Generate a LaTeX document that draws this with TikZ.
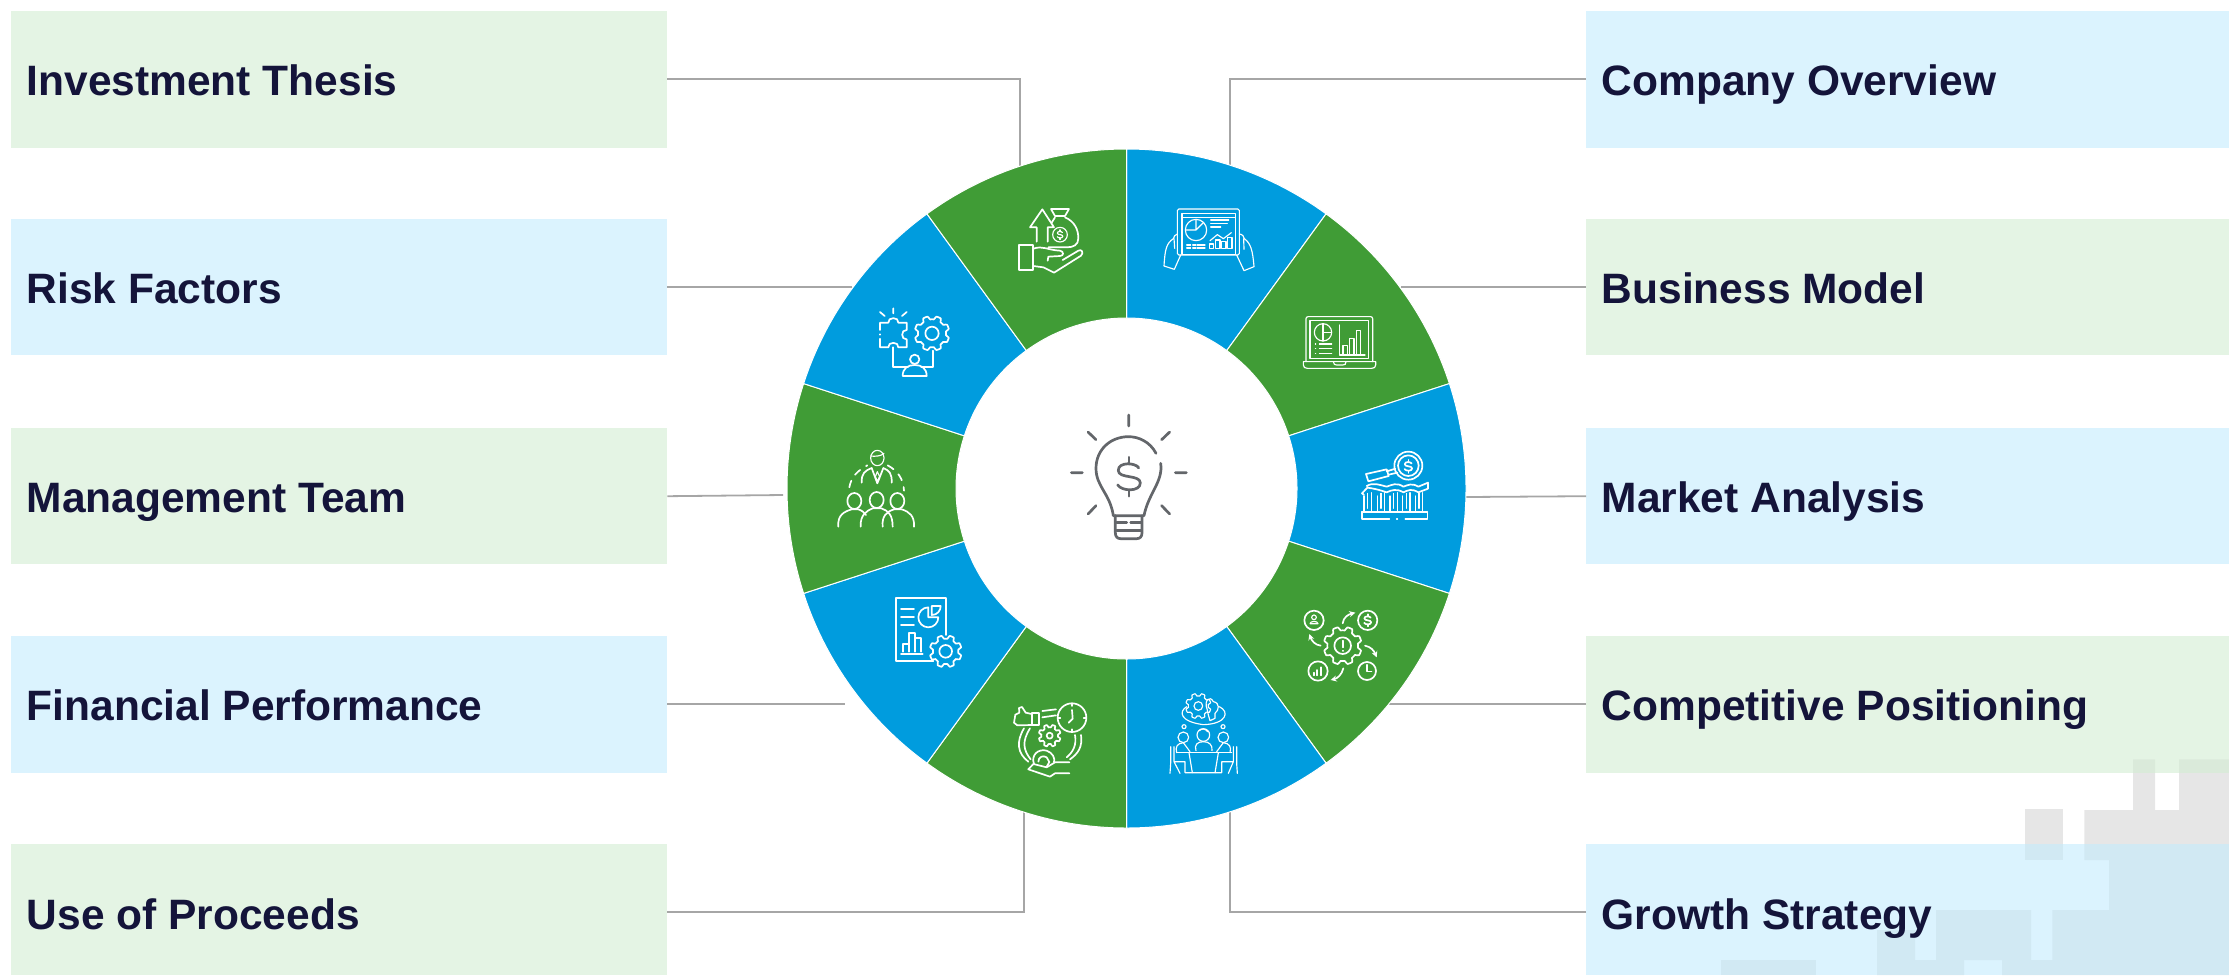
\documentclass[tikz,border=0pt]{standalone}
\usepackage{fontspec}
\setmainfont{Liberation Sans}
\usetikzlibrary{arrows.meta}
\definecolor{cgreen}{HTML}{409C36}
\definecolor{cblue}{HTML}{009CDE}
\definecolor{bgreen}{RGB}{210,237,210}
\definecolor{bblue}{RGB}{195,235,253}
\definecolor{navy}{HTML}{14143A}
\definecolor{wire}{HTML}{A6A6A6}
\definecolor{pale}{HTML}{E6E6E6}
\definecolor{bulb}{HTML}{63666A}
\tikzset{
  boxgreen/.style={fill=bgreen,fill opacity=.6,draw=none,anchor=north west,inner sep=0pt},
  boxblue/.style={fill=bblue,fill opacity=.6,draw=none,anchor=north west,inner sep=0pt},
  labeltext/.style={anchor=base west,inner sep=0pt,text=navy,font=\fontsize{42.5}{50}\selectfont\bfseries},
  wire line/.style={draw=wire,line width=1.8pt},
  wedge/.style={draw=white,line width=1pt},
  ic/.style={draw=white,line width=1.7pt,line join=round,line cap=round},
  icthin/.style={draw=white,line width=1.15pt,line join=round,line cap=round},
  bl/.style={draw=bulb,line width=2.7pt,line join=round,line cap=round},
  zoomed/.style 2 args={shift={(#1,#2)},x=.33333pt,y=-.33333pt},
  arrowed/.style={ic,-{Stealth[length=6pt,width=6pt]}}
}
\newcommand{\geardraw}[6]{% style, cx, cy, outer, tooth depth, teeth
  \draw[#1] plot[domain=0:360,samples=145,variable=\t]
   ({#2+(#4-#5*(0.5+0.5*max(min(2.2*cos(#6*\t),1),-1)))*cos(\t)},
    {#3+(#4-#5*(0.5+0.5*max(min(2.2*cos(#6*\t),1),-1)))*sin(\t)}) -- cycle;}
\newcommand{\dollarmark}[4]{% style, x, y, half height in pt
  \begin{scope}[shift={(#2,#3)},x=#4pt,y=#4pt]
  \draw[#1] (.5,.45) .. controls (.35,.72) and (-.55,.78) .. (-.55,.32)
     .. controls (-.55,-.12) and (.58,.12) .. (.58,-.32)
     .. controls (.58,-.8) and (-.4,-.75) .. (-.58,-.42);
  \draw[#1] (0,.72) -- (0,1) (0,-.72) -- (0,-1);
  \end{scope}}
\begin{document}
\begin{tikzpicture}[x=1pt,y=-1pt]
\useasboundingbox (0,0) rectangle (2229,975);
% pale backdrop
\fill[pale] (2025,809) rectangle (2063,860);
\fill[pale] (2084.3,860) -- (2084.3,810) -- (2133,810) -- (2133,759.3) -- (2155,759.3) -- (2155,810)
  -- (2179,810) -- (2179,759.3) -- (2229,759.3) -- (2229,975) -- (2002,975) -- (2002,960) -- (1964,960)
  -- (1964,975) -- (1877,975) -- (1877,930) -- (1915,930) -- (1915,960) -- (1936,960) -- (1936,910)
  -- (2031,910) -- (2031,960) -- (2052.3,960) -- (2052.3,910) -- (2109,910) -- (2109,860) -- cycle;
\fill[pale] (1721,960) rectangle (1816,975);
% boxes
\node[boxgreen,minimum width=656pt,minimum height=137pt] (b1) at (11,11) {};
\node[boxblue,minimum width=656pt,minimum height=136pt] (b2) at (11,219) {};
\node[boxgreen,minimum width=656pt,minimum height=136pt] (b3) at (11,428) {};
\node[boxblue,minimum width=656pt,minimum height=137pt] (b4) at (11,636) {};
\node[boxgreen,minimum width=656pt,minimum height=131pt] (b5) at (11,844) {};
\node[boxblue,minimum width=643pt,minimum height=137pt] (b6) at (1586,11) {};
\node[boxgreen,minimum width=643pt,minimum height=136pt] (b7) at (1586,219) {};
\node[boxblue,minimum width=643pt,minimum height=136pt] (b8) at (1586,428) {};
\node[boxgreen,minimum width=643pt,minimum height=137pt] (b9) at (1586,636) {};
\node[boxblue,minimum width=643pt,minimum height=131pt] (b10) at (1586,844) {};
% connector ends
\coordinate (c1a) at (1020,79); \coordinate (c1b) at (1020,175);
\coordinate (c2) at (852,287);
\coordinate (c3) at (783,495);
\coordinate (c4) at (845,704);
\coordinate (c5a) at (1024,912); \coordinate (c5b) at (1024,805);
\coordinate (c6a) at (1230,79); \coordinate (c6b) at (1230,175);
\coordinate (c7) at (1401,287);
\coordinate (c8) at (1466,497);
\coordinate (c9) at (1388,704);
\coordinate (c10a) at (1230,912); \coordinate (c10b) at (1230,805);
\draw[wire line] (b1.east |- c1a) -- (c1a) -- (c1b);
\draw[wire line] (b2.east |- c2) -- (c2);
\draw[wire line] (b3.east) -- (c3);
\draw[wire line] (b4.east |- c4) -- (c4);
\draw[wire line] (b5.east |- c5a) -- (c5a) -- (c5b);
\draw[wire line] (b6.west |- c6a) -- (c6a) -- (c6b);
\draw[wire line] (b7.west |- c7) -- (c7);
\draw[wire line] (b8.west) -- (c8);
\draw[wire line] (b9.west |- c9) -- (c9);
\draw[wire line] (b10.west |- c10a) -- (c10a) -- (c10b);
% ring
\begin{scope}[shift={(1126.5,488.5)},x=1pt,y=1pt]
\foreach \i/\c in {0/cblue,1/cgreen,2/cblue,3/cgreen,4/cblue,5/cgreen,6/cblue,7/cgreen,8/cblue,9/cgreen}{
  \pgfmathsetmacro{\sa}{90-36*\i}
  \pgfmathsetmacro{\ea}{54-36*\i}
  \fill[\c,wedge] (\sa:170.5pt) -- (\sa:339.5pt) arc[start angle=\sa,end angle=\ea,radius=339.5pt]
     -- (\ea:170.5pt) arc[start angle=\ea,end angle=\sa,radius=170.5pt] -- cycle;
}
\end{scope}
% labels
\node[labeltext] (t1) at (26.5,95) {Investment Thesis};
\node[labeltext] (t2) at (26.5,303) {Risk Factors};
\node[labeltext] (t3) at (26.5,512) {Management Team};
\node[labeltext] (t4) at (26.5,720) {Financial Performance};
\node[labeltext] (t5) at (26.5,929) {Use of Proceeds};
\node[labeltext] (t6) at (1601.5,95) {Company Overview};
\node[labeltext] (t7) at (1601.5,303) {Business Model};
\node[labeltext] (t8) at (1601.5,512) {Market Analysis};
\node[labeltext] (t9) at (1601.5,720) {Competitive Positioning};
\node[labeltext] (t10) at (1601.5,929) {Growth Strategy};
% bulb
\begin{scope}[zoomed={1050}{400}]
\draw[bl] (236,45)--(236,78) (114,96)--(138,119) (359,96)--(335,119) (64,218)--(97,218)
  (376,218)--(409,218) (114,342)--(138,317) (359,342)--(335,317);
\draw[bl] (318,160) .. controls (300,125) and (265,110) .. (236,110) .. controls (180,110) and (138,150) .. (138,205)
  .. controls (138,260) and (180,280) .. (190,347) -- (282,347) .. controls (295,280) and (340,245) .. (332,190);
\draw[bl] (196,347) -- (196,398) .. controls (196,410) and (202,416) .. (212,416) -- (260,416)
  .. controls (270,416) and (276,410) .. (276,398) -- (276,347);
\draw[bl] (200,368)--(230,368) (242,368)--(272,368) (200,392)--(272,392);
\dollarmark{bl}{237}{230}{19.5}
\end{scope}
% money in hand
\begin{scope}[zoomed={780}{140}]
\draw[ic] (718,316) rectangle (760,390);
\draw[ic] (760,326) .. controls (790,316) and (800,330) .. (840,332) .. controls (852,334) and (852,348) .. (840,348) -- (805,350) (805,350) -- (803,362);
\draw[ic] (760,378) -- (790,382) -- (822,398) -- (903,347) .. controls (912,338) and (905,326) .. (895,332) -- (848,360);
\draw[ic] (770,305) -- (770,262) -- (750,262) -- (787,208) -- (822,262) -- (803,262) -- (803,305);
\draw[ic] (813,207) -- (867,207) -- (855,228) -- (825,228) -- cycle;
\draw[ic] (855,232) .. controls (885,245) and (895,270) .. (895,295) .. controls (895,315) and (880,322) .. (860,322) -- (805,322);
\draw[ic] (825,232) -- (815,248);
\draw[icthin] (840,284) circle (22);
\dollarmark{icthin}{840}{284}{4.8}
\end{scope}
% puzzle, gear, person
\begin{scope}[zoomed={780}{140}]
\draw[ic] (340,505)--(340,520) (300,516)--(314,528) (380,516)--(366,528);
\draw[ic] (300,570)--(300,548)--(325,548) .. controls (322,530) and (358,530) .. (355,548) -- (380,548)--(380,570)
  .. controls (362,568) and (362,600) .. (380,598) -- (380,622) -- (355,622) .. controls (358,604) and (322,604) .. (325,622) -- (300,622) -- (300,596);
\draw[ic] (300,583)--(300,584);
\geardraw{ic}{456}{580}{52}{10}{8}
\draw[ic] (456,580) circle (20);
\draw[ic] (340,622)--(340,680)--(384,680) (424,680)--(458,680)--(458,632);
\draw[ic] (404,658) circle (14);
\draw[ic] (368,708) -- (440,708) .. controls (440,685) and (425,675) .. (404,675) .. controls (383,675) and (368,685) .. (368,708);
\end{scope}
% management team
\begin{scope}[zoomed={820}{440}]
\draw[icthin] (172,54) ellipse (20 and 23);
\draw[icthin] (152,48) .. controls (165,50) and (185,48) .. (192,40);
\draw[ic] (125,128) .. controls (124,100) and (135,92) .. (155,84) -- (172,130) -- (190,84) .. controls (208,92) and (216,100) .. (215,128);
\draw[icthin] (172,95) -- (166,110) -- (172,124) -- (179,110) -- cycle;
\draw[ic,dash pattern=on 7pt off 7pt] (88,142) .. controls (93,112) and (112,92) .. (142,76);
\draw[ic,dash pattern=on 7pt off 7pt] (203,76) .. controls (232,92) and (250,115) .. (252,152);
\draw[ic] (103,183) ellipse (21 and 24) (170,180) ellipse (21 and 24) (232,183) ellipse (21 and 24);
\draw[ic] (55,260) .. controls (52,225) and (72,215) .. (95,208) -- (115,208) .. controls (128,212) and (132,218) .. (138,225);
\draw[ic] (122,260) .. controls (120,225) and (140,212) .. (158,205) -- (184,205) .. controls (205,212) and (218,225) .. (218,260);
\draw[ic] (188,260) .. controls (185,228) and (200,215) .. (222,208) -- (245,208) .. controls (268,215) and (284,228) .. (282,260);
\end{scope}
% financial report
\begin{scope}[zoomed={780}{480}]
\draw[ic] (498,465)--(498,355)--(347,355)--(347,543)--(460,543);
\draw[ic] (363,386)--(402,386) (363,410)--(402,410) (363,435)--(402,435);
\draw[ic] (445,382) arc[start angle=-90,end angle=-360,radius=30] -- (445,412) -- cycle;
\draw[ic] (455,378)--(482,378) .. controls (482,392) and (472,405) .. (455,405) -- cycle;
\draw[ic] (363,522)--(428,522);
\draw[ic] (370,515)--(370,492)--(388,492)--(388,458)--(405,458)--(405,515) (405,475)--(422,475)--(422,515) (388,492)--(388,515);
\geardraw{ic}{497}{514}{48}{10}{8}
\draw[ic] (497,514) circle (19);
% use of proceeds
\draw[ic] (755,698) rectangle (778,735);
\draw[ic] (755,702)--(737,698)--(726,681)--(717,684)--(718,698)--(706,704)--(702,728)--(712,736)--(755,735);
\draw[ic] (787,693)--(828,688) (787,712)--(828,706);
\draw[ic] (876,713) circle (43);
\draw[ic] (876,690)--(878,716)--(866,728);
\draw[ic] (876,670)--(876,678) (876,748)--(876,756) (833,713)--(841,713) (911,713)--(919,713);
\geardraw{ic}{809}{767}{33}{8}{8}
\draw[ic] (809,767) circle (9);
\draw[ic] (732,745) .. controls (708,785) and (712,820) .. (745,845);
\draw[ic] (750,745) .. controls (725,785) and (730,810) .. (752,838);
\draw[ic] (903,765) .. controls (908,800) and (895,820) .. (870,838);
\draw[ic] (885,765) .. controls (890,795) and (880,815) .. (860,832);
\draw[ic] (762,852) .. controls (752,825) and (775,805) .. (800,812) .. controls (818,818) and (826,835) .. (822,847);
\draw[ic] (775,845) .. controls (775,830) and (790,825) .. (800,832) -- (808,846) -- (800,860);
\draw[ic] (745,868)--(760,852)--(800,862)--(825,847)--(868,847);
\draw[ic] (745,868)--(810,890)--(825,880)--(868,880);
\end{scope}
% tablet
\begin{scope}[zoomed={1120}{140}]
\draw[icthin,rounded corners=1.5pt] (172,207) rectangle (358,345);
\draw[icthin] (186,220) rectangle (346,343);
\draw[icthin] (186,232)--(346,232);
\draw[icthin] (228,270) circle (32);
\draw[icthin] (228,238)--(228,270)--(197,270) (228,270)--(250,248);
\draw[icthin] (272,240)--(326,240) (272,250)--(322,250) (272,261)--(302,261);
\draw[icthin] (200,315)--(212,315) (218,315)--(228,315) (232,315)--(255,315) (200,324)--(212,324) (218,324)--(228,324) (232,324)--(255,324);
\draw[icthin] (268,312) rectangle (280,326) (286,300) rectangle (300,326) (304,305) rectangle (318,326) (322,292) rectangle (336,326);
\draw[icthin] (270,302)--(292,284)--(310,296)--(334,278);
\draw[icthin] (172,282) .. controls (165,283) and (162,290) .. (160,296) .. controls (140,310) and (135,325) .. (132,378) -- (163,388) -- (182,345);
\draw[icthin] (162,296)--(164,325);
\draw[icthin] (358,282) .. controls (368,283) and (372,290) .. (373,296) .. controls (392,310) and (398,330) .. (402,380) -- (372,392) -- (350,345);
\draw[icthin] (371,296)--(372,328);
% laptop
\draw[icthin,rounded corners=2pt] (558,665) -- (558,530) -- (758,530) -- (758,665);
\draw[icthin] (570,542) rectangle (746,655);
\draw[icthin] (550,665)--(767,665)--(767,675) .. controls (767,682) and (762,685) .. (755,685) -- (562,685) .. controls (555,685) and (550,682) .. (550,675) -- cycle;
\draw[icthin] (640,665) .. controls (640,673) and (645,675) .. (650,675) -- (668,675) .. controls (675,675) and (678,673) .. (678,665);
\draw[icthin] (609,577) circle (26);
\draw[icthin] (609,551)--(609,603) (609,577)--(635,577);
\draw[icthin] (598,612)--(635,612) (598,626)--(635,626) (598,640)--(635,640);
\draw[icthin] (586,612)--(587,612) (586,626)--(587,626) (586,640)--(587,640);
\draw[icthin] (659,555)--(659,645)--(735,645);
\draw[icthin] (669,643)--(669,617)--(682,617)--(682,643) (689,643)--(689,595)--(702,595)--(702,643) (709,643)--(709,572)--(722,572)--(722,643);
\end{scope}
% market analysis
\begin{scope}[zoomed={1340}{440}]
\draw[ic] (205,77) circle (42) (205,77) circle (31);
\dollarmark{ic}{205}{79}{6.5}
\draw[ic] (78,102)--(140,88)--(146,108)--(85,124)--cycle;
\draw[ic] (140,94)--(166,86) (146,104)--(172,98);
\draw[ic] (80,138) .. controls (100,126) and (120,135) .. (140,140) .. controls (155,135) and (170,126) .. (190,140) .. controls (205,135) and (215,128) .. (235,140) -- (264,128) -- (264,146) -- (235,157) .. controls (215,145) and (205,150) .. (190,157) .. controls (170,145) and (155,150) .. (140,157) .. controls (120,150) and (100,145) .. (82,143) -- (66,160) -- (72,165);
\foreach \p in {72,112,150,188,226}{
  \draw[icthin] (\p,168)--(\p,215)--(\p+22,215)--(\p+22,158);
  \draw[icthin] (\p+11,160)--(\p+11,205);
}
\draw[ic] (66,215)--(66,236)--(148,236) (196,236)--(262,236)--(262,215) (66,215)--(262,215);
\draw[ic] (170,236)--(172,236);
\end{scope}
% competitive positioning
\begin{scope}[zoomed={1120}{480}]
\geardraw{ic}{668}{497}{57}{11}{8}
\draw[ic] (668,497) circle (25);
\draw[ic] (668,482)--(668,502) (668,512)--(668,513);
\draw[ic] (582,421) circle (29) (743,421) circle (29) (594,573) circle (29) (741,573) circle (27);
\draw[icthin] (582,412) circle (7);
\draw[icthin] (570,431) .. controls (570,422) and (594,422) .. (594,431) -- cycle;
\dollarmark{ic}{743}{421}{6}
\draw[ic] (581,586)--(581,578) (592,586)--(592,570) (604,586)--(604,562);
\draw[icthin] (741,554)--(741,575)--(755,575);
\draw[arrowed] (668,430) .. controls (670,412) and (685,403) .. (706,398);
\draw[arrowed] (735,497) .. controls (752,500) and (762,512) .. (770,532);
\draw[arrowed] (670,565) .. controls (665,585) and (652,595) .. (632,600);
\draw[arrowed] (602,497) .. controls (585,495) and (575,482) .. (568,462);
% meeting
\geardraw{icthin}{235}{678}{38}{8}{8}
\draw[icthin] (235,678) circle (13);
\draw[icthin] (262,690) .. controls (250,660) and (270,645) .. (280,665) .. controls (300,668) and (298,690) .. (285,700) -- (285,715) -- (270,722) -- (265,705) -- cycle;
\draw[icthin] (200,680) .. controls (175,695) and (180,725) .. (250,734) .. controls (320,732) and (330,695) .. (298,680);
\draw[icthin] (192,740) circle (6) (309,740) circle (6);
\draw[icthin] (250,765) circle (19);
\draw[icthin] (238,752) .. controls (245,745) and (255,745) .. (263,755);
\draw[icthin] (228,812) .. controls (222,795) and (232,785) .. (250,785) .. controls (268,785) and (278,795) .. (276,812);
\draw[icthin] (190,772) circle (16) (310,772) circle (16);
\draw[icthin] (170,818) .. controls (165,800) and (172,790) .. (190,788) -- (210,815);
\draw[icthin] (330,818) .. controls (335,800) and (328,790) .. (310,788) -- (290,815);
\draw[icthin] (170,818)--(335,818);
\draw[icthin] (207,818)--(217,878)--(285,878)--(295,818);
\draw[icthin] (152,800)--(152,850)--(150,880) (162,800)--(162,845)--(195,845)--(195,878)--(217,878) (162,845)--(180,880);
\draw[icthin] (350,800)--(350,850)--(352,880) (340,800)--(340,845)--(305,845)--(305,878)--(285,878) (340,845)--(325,880);
\end{scope}
\end{tikzpicture}
\end{document}
